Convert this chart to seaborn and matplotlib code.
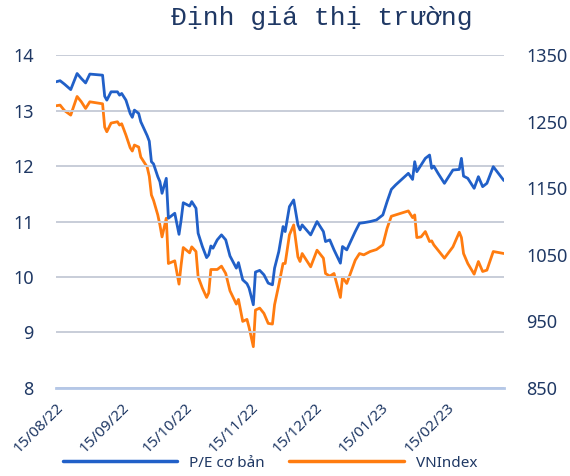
import pandas as pd
import matplotlib
matplotlib.use("Agg")
import matplotlib.pyplot as plt
import matplotlib.dates as mdates
from matplotlib.lines import Line2D
import seaborn as sns

# Dữ liệu
dates = [
    "2022-08-15", "2022-08-17", "2022-08-19", "2022-08-22", "2022-08-25", "2022-08-27",
    "2022-08-29", "2022-08-31", "2022-09-06", "2022-09-07", "2022-09-08", "2022-09-10",
    "2022-09-13", "2022-09-14", "2022-09-15", "2022-09-17", "2022-09-19", "2022-09-20",
    "2022-09-21", "2022-09-23", "2022-09-24", "2022-09-27", "2022-09-28", "2022-09-29",
    "2022-09-30", "2022-10-02", "2022-10-03", "2022-10-04", "2022-10-06", "2022-10-07",
    "2022-10-10", "2022-10-12", "2022-10-13", "2022-10-14", "2022-10-17", "2022-10-18",
    "2022-10-20", "2022-10-21", "2022-10-23", "2022-10-25", "2022-10-26", "2022-10-27",
    "2022-10-28", "2022-10-30", "2022-11-01", "2022-11-03", "2022-11-05", "2022-11-08",
    "2022-11-09", "2022-11-11", "2022-11-13", "2022-11-14", "2022-11-16", "2022-11-17",
    "2022-11-19", "2022-11-21", "2022-11-23", "2022-11-25", "2022-11-26", "2022-11-28",
    "2022-11-30", "2022-12-01", "2022-12-03", "2022-12-05", "2022-12-07", "2022-12-08",
    "2022-12-09", "2022-12-13", "2022-12-16", "2022-12-19", "2022-12-20", "2022-12-22",
    "2022-12-24", "2022-12-27", "2022-12-28", "2022-12-30", "2023-01-03", "2023-01-05",
    "2023-01-07", "2023-01-10", "2023-01-13", "2023-01-16", "2023-01-18", "2023-01-20",
    "2023-01-22", "2023-01-28", "2023-01-30", "2023-01-31", "2023-02-01", "2023-02-03",
    "2023-02-05", "2023-02-07", "2023-02-08", "2023-02-09", "2023-02-11", "2023-02-14",
    "2023-02-18", "2023-02-21", "2023-02-22", "2023-02-23", "2023-02-25", "2023-02-28",
    "2023-03-02", "2023-03-04", "2023-03-06", "2023-03-09", "2023-03-14",
]
pe = [
    13.52, 13.54, 13.48, 13.38, 13.67, 13.58, 13.50, 13.66, 13.64, 13.26, 13.19, 13.34,
    13.34, 13.28, 13.31, 13.19, 12.95, 12.88, 13.01, 12.95, 12.80, 12.55, 12.45, 12.08,
    12.04, 11.81, 11.72, 11.51, 11.78, 11.06, 11.15, 10.77, 11.03, 11.34, 11.28, 11.36,
    11.24, 10.79, 10.55, 10.35, 10.40, 10.56, 10.52, 10.67, 10.76, 10.67, 10.38, 10.16,
    10.26, 9.95, 9.88, 9.80, 9.50, 10.09, 10.12, 10.04, 9.89, 9.86, 10.16, 10.46,
    10.91, 10.82, 11.27, 11.39, 10.94, 10.85, 10.94, 10.76, 11.00, 10.82, 10.64, 10.67,
    10.49, 10.25, 10.55, 10.49, 10.82, 10.97, 10.98, 11.00, 11.03, 11.12, 11.36, 11.58,
    11.66, 11.87, 11.76, 12.08, 11.90, 12.02, 12.14, 12.20, 11.96, 12.00, 11.87, 11.69,
    11.93, 11.94, 12.14, 11.82, 11.78, 11.60, 11.81, 11.63, 11.69, 11.99, 11.74,
]
vnindex = [
    1274, 1275, 1267, 1260, 1288, 1280, 1270, 1280, 1277, 1242, 1235, 1248,
    1250, 1245, 1247, 1230, 1211, 1206, 1215, 1212, 1197, 1182, 1168, 1140,
    1132, 1110, 1095, 1077, 1105, 1037, 1041, 1006, 1035, 1061, 1053, 1062,
    1055, 1017, 1000, 986, 993, 1028, 1028, 1028, 1033, 1022, 996, 976,
    983, 950, 953, 941, 912, 967, 970, 962, 947, 946, 975, 1005,
    1037, 1037, 1080, 1095, 1047, 1040, 1052, 1032, 1057, 1045, 1022, 1018,
    1022, 986, 1016, 1007, 1042, 1052, 1050, 1055, 1058, 1065, 1090, 1108,
    1110, 1116, 1106, 1110, 1076, 1077, 1085, 1070, 1071, 1065, 1057, 1045,
    1062, 1084, 1076, 1052, 1037, 1021, 1040, 1025, 1027, 1055, 1052,
]
tick_dates = ["2022-08-15", "2022-09-15", "2022-10-15", "2022-11-15",
              "2022-12-15", "2023-01-15", "2023-02-15"]
title = "Định giá thị trường"
labels = ["P/E cơ bản", "VNIndex"]

sns.set_style("white")
plt.rcParams["font.family"] = ["Noto Sans", "DejaVu Sans"]

navy = "#1F3864"
blue = "#2160C8"
orange = "#FF7C10"

df = pd.DataFrame({"date": pd.to_datetime(dates), "pe": pe, "vnindex": vnindex})

fig = plt.figure(figsize=(5.7, 4.76), dpi=100)
ax = fig.add_axes([0.098, 0.185, 0.786, 0.699])
ax2 = ax.twinx()

sns.lineplot(data=df, x="date", y="vnindex", ax=ax2, color=orange, lw=2.0)
sns.lineplot(data=df, x="date", y="pe", ax=ax, color=blue, lw=2.0)
ax.set_zorder(ax2.get_zorder() + 1)
ax.patch.set_visible(False)

ax.set_ylim(8, 14)
ax.set_yticks(range(8, 15))
ax2.set_ylim(850, 1350)
ax2.set_yticks(range(850, 1351, 100))
ax.set_xlim(pd.Timestamp("2022-08-15"), pd.Timestamp("2023-03-14"))
ax.set_xticks(pd.to_datetime(tick_dates))
ax.xaxis.set_major_formatter(mdates.DateFormatter("%d/%m/%y"))

ax.set_xlabel("")
ax.set_ylabel("")
ax2.set_ylabel("")

ax.yaxis.grid(True, color="#C8CDD8", lw=1.4)
ax.set_axisbelow(True)

for a in (ax, ax2):
    for s in ("top", "left", "right"):
        a.spines[s].set_visible(False)
    a.spines["bottom"].set_visible(False)
ax.spines["bottom"].set_visible(True)
ax.spines["bottom"].set_color("#B4C7E7")
ax.spines["bottom"].set_linewidth(2)

ax.tick_params(axis="y", length=0, pad=16, labelsize=13, labelcolor=navy)
ax2.tick_params(axis="y", length=0, pad=16, labelsize=13, labelcolor=navy)
ax.tick_params(axis="x", length=3, width=1.5, color="#B4C7E7", pad=6,
               labelsize=11, labelcolor=navy)
for lbl in ax.get_xticklabels():
    lbl.set_rotation(45)
    lbl.set_ha("right")
    lbl.set_rotation_mode("anchor")

fig.text(0.565, 0.962, title, family=["Liberation Mono", "DejaVu Sans Mono"],
         fontsize=19, color=navy, ha="center", va="center")

handles = [Line2D([], [], color=blue, lw=2.5), Line2D([], [], color=orange, lw=2.5)]
fig.legend(handles, labels, loc="center", bbox_to_anchor=(0.474, 0.027), ncol=2,
           frameon=False, handlelength=7.5, columnspacing=1.6, fontsize=11,
           labelcolor=navy)

fig.savefig("out.png", dpi=100)
